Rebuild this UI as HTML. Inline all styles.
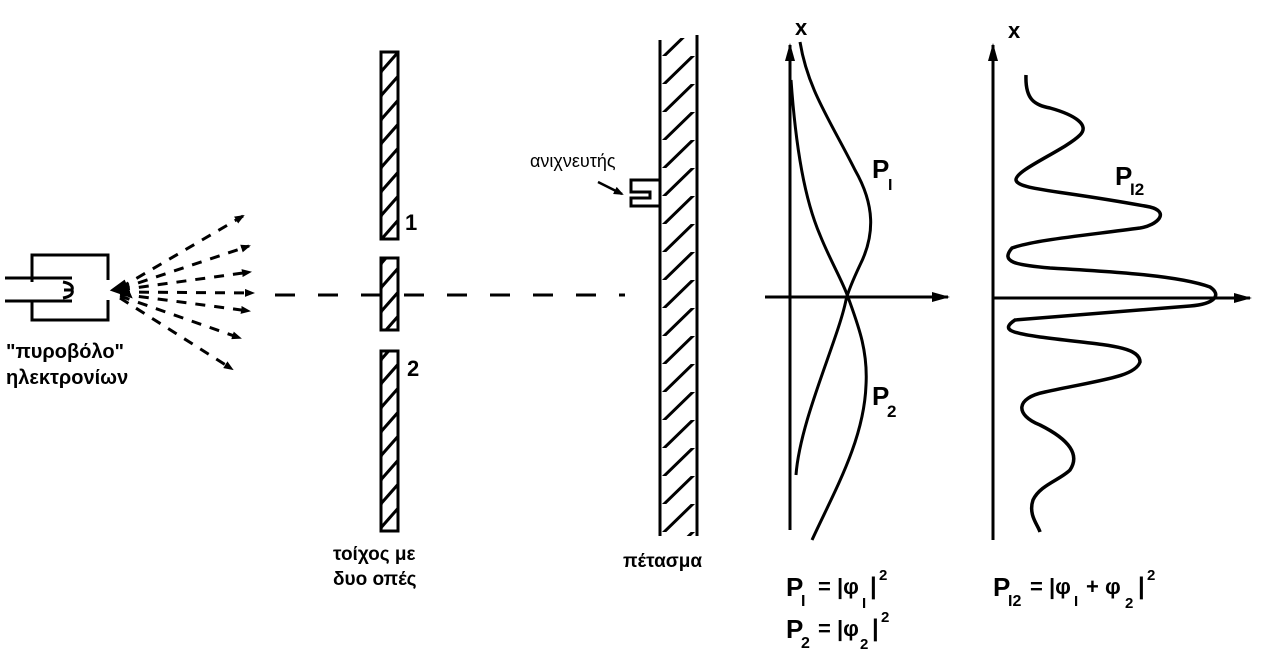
<!DOCTYPE html>
<html><head><meta charset="utf-8"><style>
body{margin:0;background:#fff;}
svg{display:block;}
.t{font-family:"Liberation Sans","DejaVu Sans",sans-serif;font-weight:bold;fill:#000;}
</style></head><body>
<svg width="1278" height="655" viewBox="0 0 1278 655" xmlns="http://www.w3.org/2000/svg">
<defs>
<pattern id="h1" patternUnits="userSpaceOnUse" width="17" height="24" x="381">
<line x1="-2" y1="26" x2="19" y2="2" stroke="#000" stroke-width="3"/>
<line x1="-2" y1="2" x2="2" y2="-2" stroke="#000" stroke-width="3"/>
</pattern>
<pattern id="h2" patternUnits="userSpaceOnUse" width="37" height="28" x="660">
<line x1="0" y1="32" x2="37" y2="-4" stroke="#000" stroke-width="3"/>
</pattern>
<marker id="a" markerWidth="10" markerHeight="8" refX="8" refY="4" orient="auto" markerUnits="userSpaceOnUse"><path d="M0,0 L10,4 L0,8 Z" fill="#000"/></marker>
<marker id="b" markerWidth="18" markerHeight="10" refX="16" refY="5" orient="auto" markerUnits="userSpaceOnUse"><path d="M0,0 L18,5 L0,10 Z" fill="#000"/></marker>
</defs>
<g stroke="#000" fill="none" stroke-width="3">
<polyline points="32,282 32,255 108,255 108,280"/>
<polyline points="32,300 32,320 108,320 108,300"/>
<line x1="5" y1="278" x2="72" y2="278"/>
<line x1="5" y1="301" x2="72" y2="301"/>
<path d="M63,282 Q74,284 72,290 Q74,296 63,298 M64,290 H72"/>
<g stroke-dasharray="10,9" stroke-width="3" marker-end="url(#a)">
<line x1="120" y1="288" x2="243" y2="216"/>
<line x1="120" y1="289" x2="249" y2="246"/>
<line x1="120" y1="290" x2="250" y2="272"/>
<line x1="120" y1="292" x2="253" y2="293"/>
<line x1="120" y1="294" x2="249" y2="311"/>
<line x1="120" y1="296" x2="240" y2="338"/>
<line x1="120" y1="298" x2="232" y2="369"/>
</g>
<path d="M113,290 L124,282 L130,296 Z" fill="#000"/>
<line x1="275" y1="295" x2="625" y2="295" stroke-dasharray="20,23"/>
<g stroke-width="3">
<rect x="381" y="52" width="17" height="187" fill="url(#h1)"/>
<rect x="381" y="258" width="17" height="72" fill="url(#h1)"/>
<rect x="381" y="351" width="17" height="180" fill="url(#h1)"/>
</g>
<rect x="660" y="38" width="37" height="498" fill="url(#h2)" stroke="none"/>
<line x1="660" y1="40" x2="660" y2="536"/>
<line x1="697" y1="35" x2="697" y2="536"/>
<path d="M660,180 H631 V192 H650 V198 H631 V206 H660"/>
<line x1="598" y1="182" x2="622" y2="194" marker-end="url(#a)" stroke-width="2.5"/>
<line x1="790" y1="530" x2="790" y2="45" marker-end="url(#b)"/>
<line x1="765" y1="297" x2="948" y2="297" marker-end="url(#b)"/>
<line x1="993" y1="540" x2="993" y2="45" marker-end="url(#b)"/>
<line x1="993" y1="298" x2="1250" y2="298" marker-end="url(#b)"/>
<path d="M800,42 C808,90 830,120 855,170 C875,205 875,235 860,265 C852,282 848,292 846,300 C838,340 800,420 796,475"/>
<path d="M791,80 C796,150 805,200 820,235 C830,260 842,280 848,297 C858,325 868,350 866,385 C864,440 835,490 812,540"/>
<path d="M1026,75 C1025,100 1035,105 1050,108 C1075,115 1090,125 1080,135 C1065,150 1015,170 1016,180 C1018,190 1060,190 1150,207 C1170,212 1158,225 1140,228 C1080,236 1035,240 1012,248 C1000,262 1015,265 1050,268 C1120,272 1180,276 1210,287 C1222,295 1215,304 1190,306 C1120,312 1060,316 1015,320 C1000,330 1012,333 1040,337 C1100,345 1140,345 1140,362 C1135,377 1100,380 1045,392 C1015,398 1015,415 1040,425 C1070,440 1080,455 1070,470 C1060,480 1040,485 1033,500 C1028,515 1038,525 1040,532" stroke-width="3.5"/>
</g>
<g class="t">
<text x="6" y="358" font-size="20">"πυροβόλο"</text>
<text x="6" y="384" font-size="20">ηλεκτρονίων</text>
<text x="333" y="560" font-size="19">τοίχος με</text>
<text x="333" y="585" font-size="19">δυο οπές</text>
<text x="623" y="567" font-size="19">πέτασμα</text>
<text x="530" y="167" font-size="18" font-weight="normal">ανιχνευτής</text>
<text x="405" y="230" font-size="22">1</text>
<text x="407" y="376" font-size="22">2</text>
<text x="795" y="35" font-size="22">x</text>
<text x="1008" y="38" font-size="22">x</text>
<text x="872" y="178" font-size="26">P</text><text x="888" y="190" font-size="16">I</text>
<text x="872" y="405" font-size="26">P</text><text x="887" y="417" font-size="17">2</text>
<text x="1115" y="185" font-size="26">P</text><text x="1130" y="195" font-size="17">I2</text>
<text x="786" y="596" font-size="26">P</text><text x="801" y="606" font-size="16">I</text>
<text x="818" y="594" font-size="22">= |φ</text><text x="862" y="608" font-size="15">I</text><text x="870" y="594" font-size="24">|</text><text x="879" y="580" font-size="15">2</text>
<text x="786" y="638" font-size="26">P</text><text x="801" y="648" font-size="16">2</text>
<text x="818" y="636" font-size="22">= |φ</text><text x="860" y="649" font-size="15">2</text><text x="872" y="636" font-size="24">|</text><text x="881" y="622" font-size="15">2</text>
<text x="993" y="596" font-size="26">P</text><text x="1008" y="606" font-size="16">I2</text>
<text x="1030" y="594" font-size="22">= |φ</text><text x="1074" y="606" font-size="15">I</text><text x="1086" y="594" font-size="22">+ φ</text><text x="1125" y="608" font-size="15">2</text><text x="1138" y="594" font-size="24">|</text><text x="1147" y="580" font-size="15">2</text>
</g>
</svg>
</body></html>
